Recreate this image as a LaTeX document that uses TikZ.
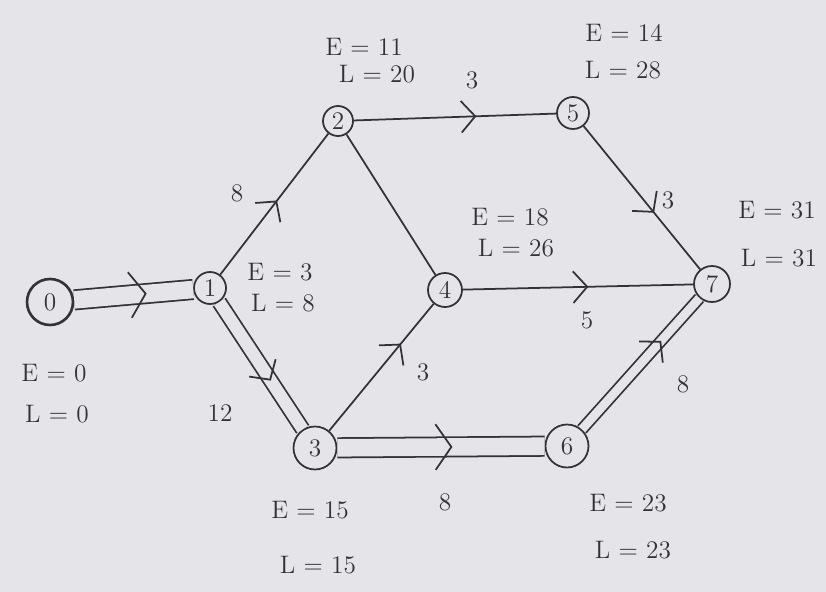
\documentclass[tikz,border=0pt]{standalone}
\usetikzlibrary{arrows.meta, decorations.markings}
\definecolor{ink}{RGB}{50,50,55}
\definecolor{paper}{RGB}{229,229,233}
\tikzset{
  % Event circle (parameterized by diameter)
  event/.style={
    circle, draw=ink, line width=1pt, minimum size=#1, inner sep=0pt,
    font=\Large, text=ink
  },
  act/.style={draw=ink, line width=1pt},
  % Critical activity (parameterized by gap)
  crit/.style={draw=ink, line width=1pt, double=paper, double distance=#1},
  % Open chevrons in the middle of an activity
  chev/.style={postaction={decorate}, decoration={markings,
    mark=at position #1 with {\draw[ink, line width=1pt] (-8pt,9pt) -- (0pt,0pt) -- (-8pt,-9pt);}}},
  bigchev/.style={postaction={decorate}, decoration={markings,
    mark=at position #1 with {\draw[ink, line width=1pt] (-9pt,13pt) -- (0pt,0pt) -- (-9pt,-13pt);}}},
  times/.style={font=\Large, text=ink},
  dur/.style={font=\Large, text=ink}
}
\begin{document}
\begin{tikzpicture}[x=0.02cm, y=-0.02cm]
  \fill[paper] (0,0) rectangle (826,592);
  \useasboundingbox (0,0) rectangle (826,592);

  % Events
  \node[event=0.92cm, line width=1.5pt] (n0) at (50,302) {0};
  \node[event=0.64cm] (n1) at (210,288) {1};
  \node[event=0.6cm]  (n2) at (338,121) {2};
  \node[event=0.68cm] (n4) at (445,290) {4};
  \node[event=0.86cm] (n3) at (315,448) {3};
  \node[event=0.64cm] (n5) at (573,113) {5};
  \node[event=0.86cm] (n6) at (567,446) {6};
  \node[event=0.72cm] (n7) at (712,284) {7};

  % Critical path
  \draw[crit=10pt] (n0) -- (n1);
  \path[bigchev=0.6] (n0) -- (n1);
  \draw[crit=7pt] (n1) -- (n3);
  \path[chev=0.61] (n1) -- (n3);
  \draw[crit=10pt] (n3) -- (n6);
  \path[bigchev=0.55] (n3) -- (n6);
  \draw[crit=5pt] (n6) -- (n7);
  \path[chev=0.67] (n6) -- (n7);

  % Other activities
  \draw[act, chev=0.52] (n1) -- (n2);
  \draw[act, chev=0.6] (n2) -- (n5);
  \draw[act] (n2) -- (n4);
  \draw[act, chev=0.68] (n3) -- (n4);
  \draw[act, chev=0.54] (n4) -- (n7);
  \draw[act, chev=0.6] (n5) -- (n7);

  % Durations
  \node[dur] (d12) at (237,193) {8};
  \node[dur] (d13) at (220,413) {12};
  \node[dur] (d25) at (472,80) {3};
  \node[dur] (d34) at (423,372) {3};
  \node[dur] (d36) at (445,502) {8};
  \node[dur] (d47) at (587,320) {5};
  \node[dur] (d57) at (668,200) {3};
  \node[dur] (d67) at (683,384) {8};

  % Earliest / latest times
  \node[times] (e0) at (54,373) {E = 0};
  \node[times] (l0) at (57,414) {L = 0};
  \node[times] (e1) at (280,272) {E = 3};
  \node[times] (l1) at (283,303) {L = 8};
  \node[times] (e2) at (364,47) {E = 11};
  \node[times] (l2) at (377,74) {L = 20};
  \node[times] (e4) at (510,217) {E = 18};
  \node[times] (l4) at (516,248) {L = 26};
  \node[times] (e5) at (624,33) {E = 14};
  \node[times] (l5) at (623,70) {L = 28};
  \node[times] (e3) at (310,510) {E = 15};
  \node[times] (l3) at (318,565) {L = 15};
  \node[times] (e6) at (628,503) {E = 23};
  \node[times] (l6) at (633,550) {L = 23};
  \node[times] (e7) at (777,210) {E = 31};
  \node[times] (l7) at (779,258) {L = 31};
\end{tikzpicture}
\end{document}
